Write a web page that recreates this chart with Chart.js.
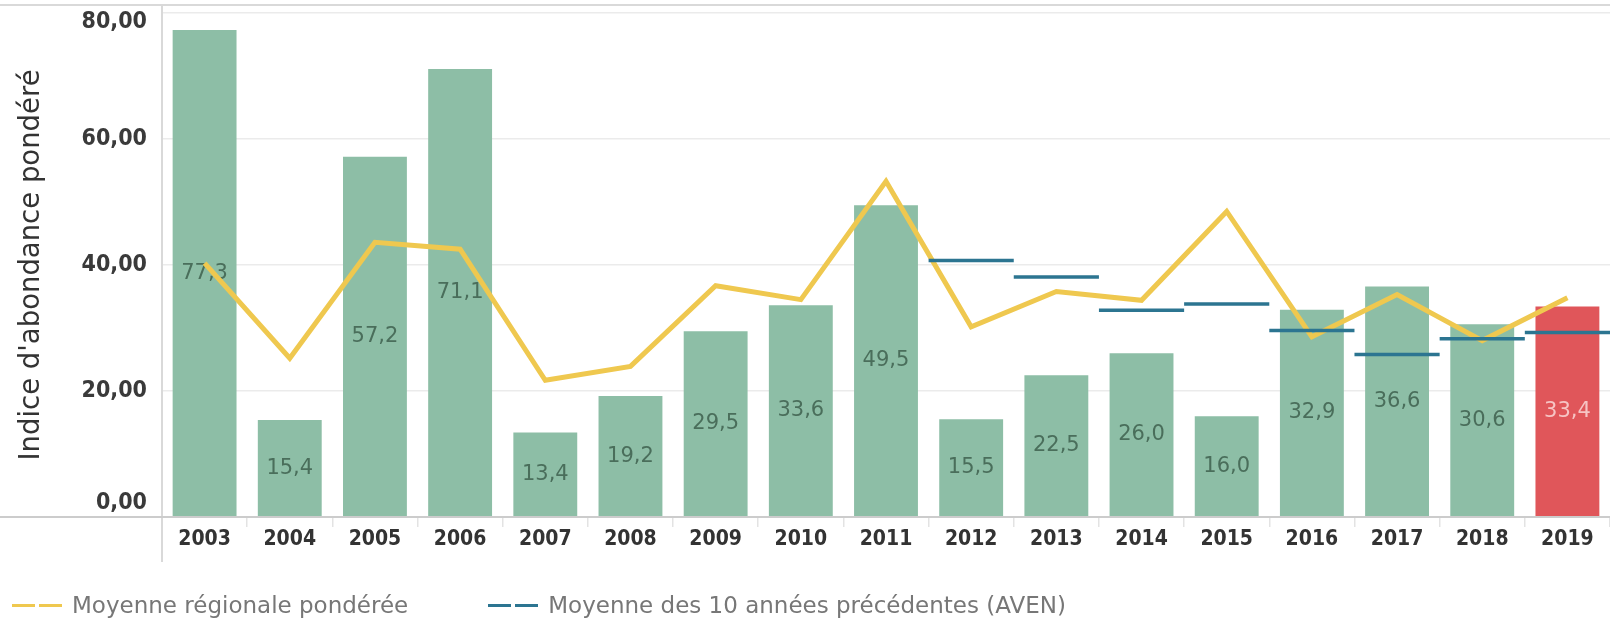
<!DOCTYPE html>
<html>
<head>
<meta charset="utf-8">
<script src="https://cdn.jsdelivr.net/npm/chart.js@4/dist/chart.umd.min.js"></script>
<style>
    html, body { margin: 0; padding: 0; background: #fff; }
    #wrap { position: relative; width: 1610px; height: 621px; overflow: hidden; }
    #chart { position: absolute; left: 0; top: 0; }
    #legend {
        position: absolute; left: 12px; top: 592px;
        font: 23px "DejaVu Sans", sans-serif; color: #777;
        display: flex; align-items: center; white-space: nowrap;
    }
    .item { display: flex; align-items: center; }
    .sample { display: flex; width: 50px; margin-right: 10px; }
    .sample span { display: block; width: 23px; height: 3px; margin-right: 4px; }
    .sample span:last-child { margin-right: 0; }
</style>
</head>
<body>
<div id="wrap">
    <canvas id="chart" width="1610" height="621"></canvas>
    <div id="legend"></div>
</div>
<script>
// data
const years = ['2003', '2004', '2005', '2006', '2007', '2008', '2009', '2010', '2011',
    '2012', '2013', '2014', '2015', '2016', '2017', '2018', '2019'];
const indexValues = [77.3, 15.4, 57.2, 71.1, 13.4, 19.2, 29.5, 33.6, 49.5,
    15.5, 22.5, 26.0, 16.0, 32.9, 36.6, 30.6, 33.4];
const regionalMean = [40.3, 25.2, 43.6, 42.5, 21.7, 23.9, 36.7, 34.5, 53.3,
    30.2, 35.8, 34.4, 48.5, 28.6, 35.3, 28.0, 34.8];
const tenYearMean = [null, null, null, null, null, null, null, null, null,
    40.7, 38.1, 32.8, 33.8, 29.6, 25.8, 28.3, 29.3];
const yTicks = [0, 20, 40, 60, 80];
const currentYear = '2019';

const seriesNames = ['Moyenne régionale pondérée', 'Moyenne des 10 années précédentes (AVEN)'];
const GREEN = '#8dbea6';
const RED = '#e0565a';
const YELLOW = '#efc84f';
const BLUE = '#2c7591';
const FONT = "'DejaVu Sans Condensed', 'DejaVu Sans', sans-serif";

function fmt(v, d) {
    return v.toFixed(d).replace('.', ',');
}

// value labels, drawn right after the bars so the lines pass over them
const barLabels = {
    id: 'barLabels',
    afterDatasetDraw(chart, args) {
        if (args.index !== 0) return;
        const ctx = chart.ctx;
        ctx.save();
        ctx.font = "21px 'DejaVu Sans', sans-serif";
        ctx.textAlign = 'center';
        ctx.textBaseline = 'middle';
        args.meta.data.forEach((bar, i) => {
            ctx.fillStyle = years[i] === currentYear ? '#f6c4c4' : '#4a6e5b';
            ctx.fillText(fmt(indexValues[i], 1), bar.x, (bar.y + bar.base) / 2);
        });
        ctx.restore();
    }
};

// frame lines and y tick labels in the Tableau way
const frame = {
    id: 'frame',
    afterDraw(chart) {
        const ctx = chart.ctx;
        const area = chart.chartArea;
        const y = chart.scales.y;
        ctx.save();
        ctx.lineWidth = 2;
        ctx.strokeStyle = '#d9d9d9';
        ctx.beginPath();
        ctx.moveTo(0, 5); ctx.lineTo(chart.width, 5);
        ctx.moveTo(area.left, 5); ctx.lineTo(area.left, 562);
        ctx.stroke();
        ctx.strokeStyle = '#cccccc';
        ctx.beginPath();
        ctx.moveTo(0, area.bottom); ctx.lineTo(chart.width, area.bottom);
        ctx.stroke();

        ctx.font = 'bold 23px ' + FONT;
        ctx.fillStyle = '#3a3a3a';
        ctx.textAlign = 'right';
        ctx.textBaseline = 'middle';
        yTicks.forEach(v => {
            let py = y.getPixelForValue(v);
            py = Math.min(Math.max(py, area.top + 9), area.bottom - 14);
            ctx.fillText(fmt(v, 2), area.left - 15, py);
        });
        ctx.restore();
    }
};

const ctx = document.getElementById('chart').getContext('2d');
new Chart(ctx, {
    data: {
        labels: years,
        datasets: [{
            type: 'bar',
            label: 'Indice',
            data: indexValues,
            backgroundColor: years.map(y => y === currentYear ? RED : GREEN),
            barPercentage: 0.75,
            categoryPercentage: 1,
            order: 3
        }, {
            type: 'line',
            label: seriesNames[0],
            data: regionalMean,
            borderColor: YELLOW,
            borderWidth: 5,
            borderJoinStyle: 'miter',
            tension: 0,
            pointRadius: 0,
            order: 2
        }, {
            type: 'line',
            label: seriesNames[1],
            data: tenYearMean,
            showLine: false,
            pointStyle: 'line',
            pointRadius: c => c.chart.scales.x.width / years.length / 2,
            pointBorderWidth: 3.5,
            pointBorderColor: BLUE,
            pointBackgroundColor: BLUE,
            order: 1
        }]
    },
    options: {
        responsive: false,
        animation: false,
        devicePixelRatio: 1,
        layout: {
            padding: { top: 13, right: 0, bottom: 59, left: 0 }
        },
        plugins: {
            legend: { display: false },
            tooltip: { enabled: false }
        },
        scales: {
            x: {
                offset: true,
                afterFit: function (scale) { scale.height = 45; },
                grid: {
                    offset: true,
                    drawOnChartArea: false,
                    drawTicks: true,
                    tickLength: 10,
                    color: '#e3e3e3',
                    lineWidth: 1.5
                },
                border: { display: false },
                ticks: {
                    padding: 0,
                    color: '#333',
                    maxRotation: 0,
                    font: { family: FONT, size: 21, weight: 'bold' }
                }
            },
            y: {
                min: 0,
                max: 80,
                afterFit: function (scale) { scale.width = 162; },
                afterBuildTicks: function (scale) {
                    scale.ticks = yTicks.map(v => ({ value: v }));
                },
                grid: {
                    drawTicks: false,
                    color: c => c.tick.value === 0 ? 'rgba(0,0,0,0)' : '#ebebeb',
                    lineWidth: 1.5
                },
                border: { display: false },
                ticks: { display: false },
                title: {
                    display: true,
                    text: "Indice d'abondance pondéré",
                    color: '#333',
                    padding: { top: 15, bottom: 0 },
                    font: { family: "'DejaVu Sans', sans-serif", size: 27.5 }
                }
            }
        }
    },
    plugins: [barLabels, frame]
});

// legend below the plot
const legendColors = [YELLOW, BLUE];
const legend = document.getElementById('legend');
seriesNames.forEach((name, i) => {
    const item = document.createElement('div');
    item.className = 'item';
    if (i > 0) item.style.marginLeft = '80px';
    item.innerHTML = '<div class="sample"><span style="background:' + legendColors[i] +
        '"></span><span style="background:' + legendColors[i] + '"></span></div><div>' + name + '</div>';
    legend.appendChild(item);
});
</script>
</body>
</html>
